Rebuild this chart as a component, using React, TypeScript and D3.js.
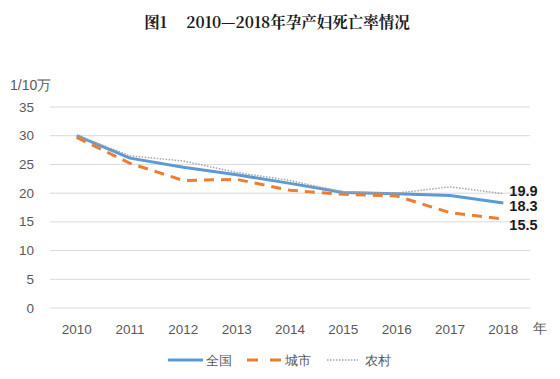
import React from "react";
import * as d3 from "d3";

const years = ["2010","2011","2012","2013","2014","2015","2016","2017","2018"];
const national = [30.0, 26.1, 24.5, 23.2, 21.7, 20.1, 19.9, 19.6, 18.3];
const urban = [29.7, 25.2, 22.2, 22.4, 20.5, 19.8, 19.5, 16.6, 15.5];
const rural = [30.1, 26.5, 25.6, 23.6, 22.2, 20.2, 20.0, 21.1, 19.9];
const yTicks = [0, 5, 10, 15, 20, 25, 30, 35];

export default function App() {
  const W = 560, H = 379;
  const x = d3.scaleBand<string>().domain(years).range([50, 530]);
  const y = d3.scaleLinear().domain([0, 35]).range([308, 107]);
  const cx = (d: string) => (x(d) as number) + x.bandwidth() / 2;
  const line = d3.line<number>().x((_, i) => cx(years[i])).y((v) => y(v));
  const font = "'Liberation Sans', Arial, sans-serif";
  const series = [
    { name: "全国", data: national, color: "#5B9BD5", dash: "none", w: 3, lx: 168, lw: 35, tx: 206, ld: "none" },
    { name: "城市", data: urban, color: "#ED7D31", dash: "10,7", w: 3, lx: 247, lw: 35, tx: 285, ld: "11,12" },
    { name: "农村", data: rural, color: "#A5A5A5", dash: "1.5,1.5", w: 1.5, lx: 327, lw: 31, tx: 365, ld: "1.5,1.5" },
  ];
  const last = years[years.length - 1];
  const endLabels = [
    { v: rural[8], dy: -3 },
    { v: national[8], dy: 3 },
    { v: urban[8], dy: 6 },
  ];
  return (
    <svg width={W} height={H} style={{ position: "absolute", left: 0, top: 0, background: "#fff" }}>
      <text x={277} y={28} textAnchor="middle" fontFamily="'Noto Serif CJK SC','Liberation Serif',serif" fontWeight="bold" fontSize={15.5} fill="#1a1a1a">
        图1{"\u00a0\u00a0\u00a0\u00a0\u00a0"}2010—2018年孕产妇死亡率情况
      </text>
      <text x={10} y={90} fontFamily={font} fontSize={14} fill="#595959">1/10万</text>
      {yTicks.map((t) => (
        <g key={t}>
          <line x1={50} x2={530} y1={y(t)} y2={y(t)} stroke="#D9D9D9" strokeWidth={1} />
          <text x={34} y={y(t) + 4.5} textAnchor="end" fontFamily={font} fontSize={13.5} fill="#595959">{t}</text>
        </g>
      ))}
      {years.map((yr) => (
        <text key={yr} x={cx(yr)} y={334} textAnchor="middle" fontFamily={font} fontSize={13.5} fill="#595959">{yr}</text>
      ))}
      <text x={533} y={333} fontFamily={font} fontSize={14} fill="#595959">年</text>
      {series.map((s) => (
        <path key={s.name} d={line(s.data) || ""} fill="none" stroke={s.color} strokeWidth={s.w} strokeDasharray={s.dash} strokeLinejoin="round" />
      ))}
      {endLabels.map((l, i) => (
        <text key={i} x={cx(last) + 6} y={y(l.v) + 5 + l.dy} fontFamily={font} fontWeight="bold" fontSize={14.5} fill="#1a1a1a">{l.v.toFixed(1)}</text>
      ))}
      {series.map((s) => (
        <g key={s.name}>
          <line x1={s.lx} x2={s.lx + s.lw} y1={360} y2={360} stroke={s.color} strokeWidth={s.w} strokeDasharray={s.ld} />
          <text x={s.tx} y={364.5} fontFamily={font} fontSize={12.5} fill="#595959">{s.name}</text>
        </g>
      ))}
    </svg>
  );
}
